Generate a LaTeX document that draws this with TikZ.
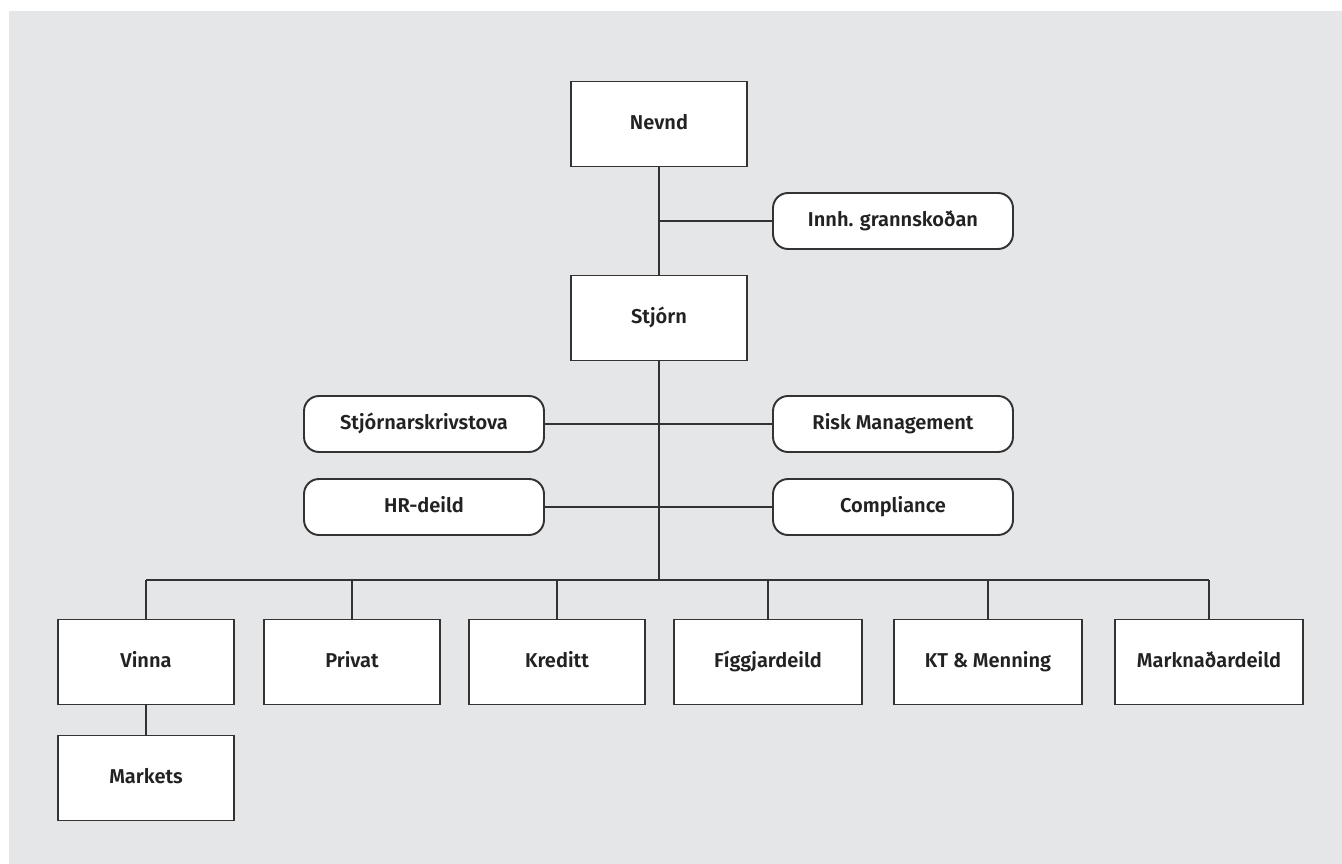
\documentclass[tikz,border=0pt]{standalone}
\usepackage{fontspec}
\setmainfont{Fira Sans}[BoldFont={Fira Sans SemiBold}]
\usetikzlibrary{positioning,calc}
\definecolor{bggray}{HTML}{E5E6E8}
\definecolor{linegray}{HTML}{333333}
\definecolor{textgray}{HTML}{222222}

\tikzset{
  box/.style={draw=linegray, fill=white, line width=1.1pt, inner sep=0pt,
    minimum width=3.52cm, minimum height=1.7cm, text height=1.6ex, text depth=0.5ex,
    font=\bfseries\fontsize{11.4}{13}\selectfont, text=textgray},
  widebox/.style={box, minimum width=3.76cm},
  pill/.style={box, rounded corners=0.3cm, minimum width=4.8cm, minimum height=1.12cm},
  link/.style={draw=linegray, line width=1.1pt}
}

\begin{document}
\begin{tikzpicture}[x=0.02cm,y=-0.02cm]%[scale=0.9]
  \useasboundingbox (0,0) rectangle (1342,864);
  \fill[bggray] (9,11) rectangle (1342,864);
  % top of the chart
  \node[box] (nevnd) at (659,124) {Nevnd};
  \node[pill] (innh) at (893,221) {Innh. grannskoðan};
  \node[box] (stjorn) at (659,318) {Stjórn};
  % staff units
  \node[pill] (skriv) at (424,424) {Stjórnarskrivstova};
  \node[pill] (risk) at (893,424) {Risk Management};
  \node[pill] (hr) at (424,507) {HR-deild};
  \node[pill] (compl) at (893,507) {Compliance};
  % departments
  \node[box] (vinna) at (146,662) {Vinna};
  \node[box] (privat) at (352,662) {Privat};
  \node[box] (kreditt) at (557,662) {Kreditt};
  \node[widebox] (figg) at (768,662) {Fíggjardeild};
  \node[widebox] (kt) at (988,662) {KT \& Menning};
  \node[widebox] (markn) at (1209,662) {Marknaðardeild};
  \node[box] (markets) at (146,778) {Markets};
  \coordinate (bus) at (659,580);
  % connectors
  \draw[link] (nevnd.south) -- (stjorn.north);
  \draw[link] (nevnd.south |- innh.west) -- (innh.west);
  \draw[link] (stjorn.south) -- (bus);
  \draw[link] (skriv.east) -- (risk.west);
  \draw[link] (hr.east) -- (compl.west);
  \draw[link] (vinna.north |- bus) -- (markn.north |- bus);
  \foreach \d in {vinna,privat,kreditt,figg,kt,markn}
    \draw[link] (\d.north) -- (\d.north |- bus);
  \draw[link] (vinna.south) -- (markets.north);
\end{tikzpicture}
\end{document}
